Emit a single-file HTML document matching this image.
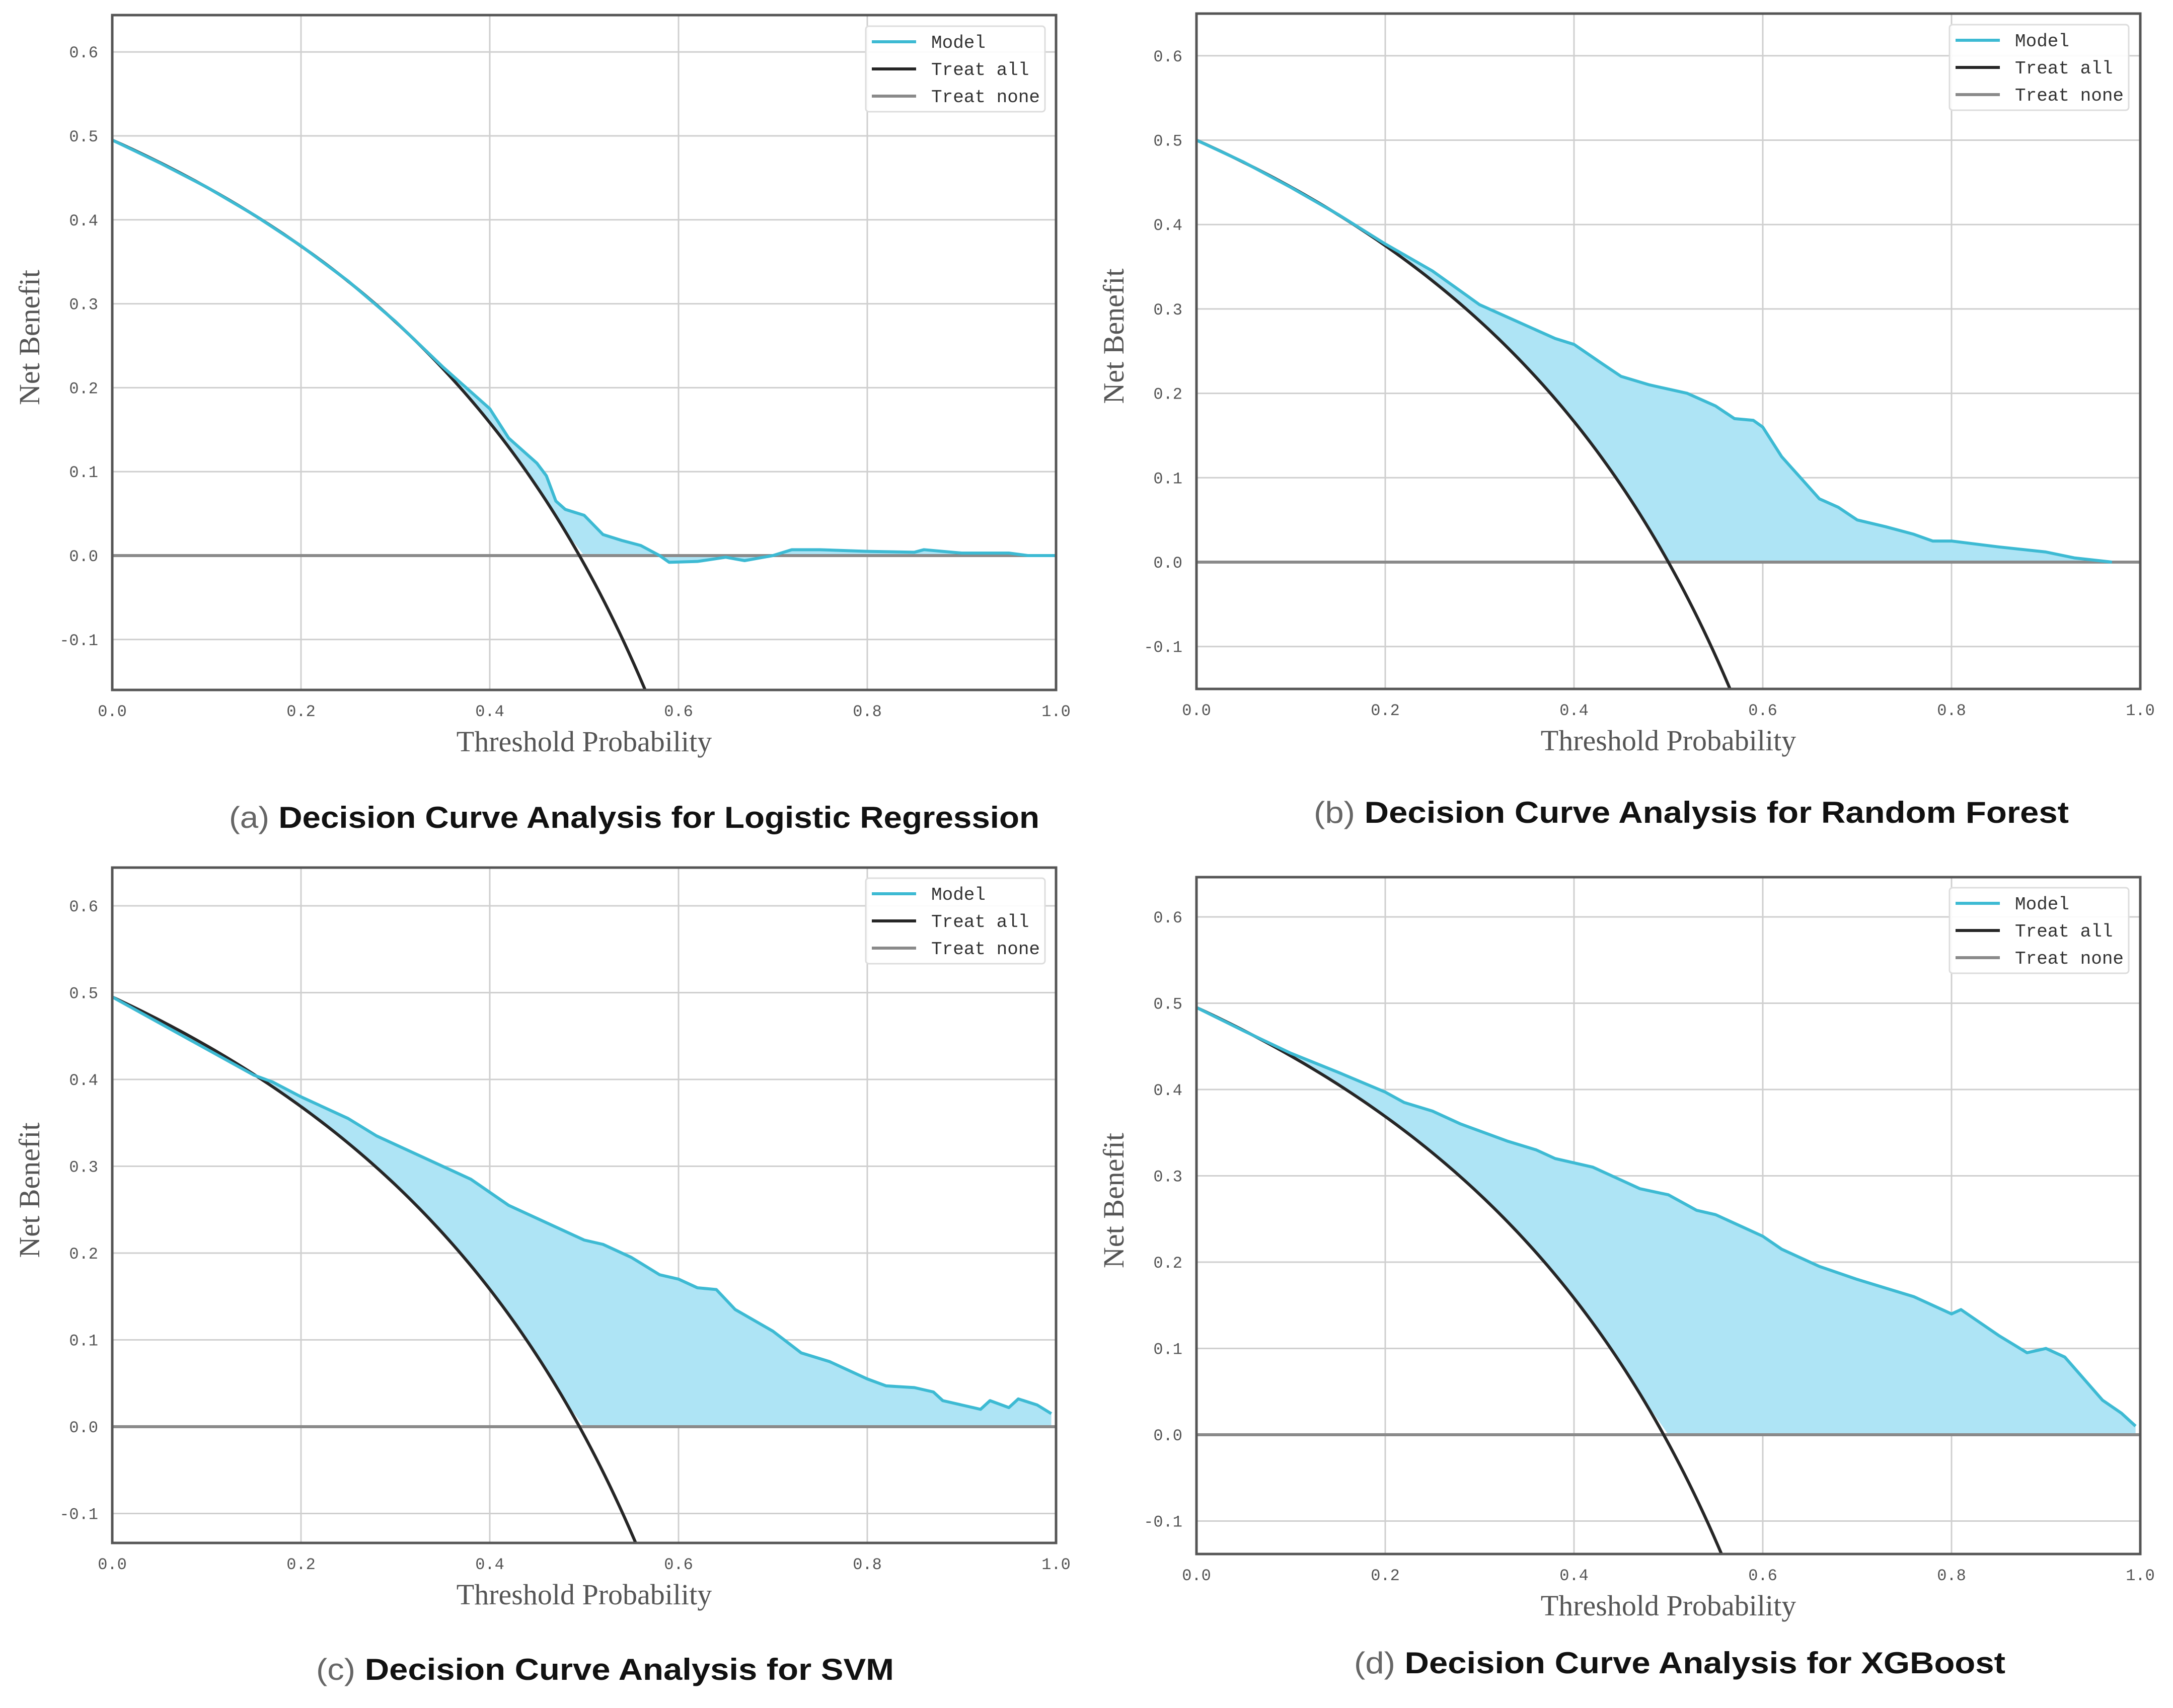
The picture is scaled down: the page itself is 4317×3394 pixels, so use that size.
<!DOCTYPE html>
<html><head><meta charset="utf-8"><style>
html,body{margin:0;padding:0;background:#fff;}
svg{display:block;}
</style></head><body>
<svg id="fig" width="4317" height="3394" viewBox="0 0 4317 3394" xmlns="http://www.w3.org/2000/svg"></svg>
<script>
// ---- data ----
const prevA = 0.495, prevB = 0.5, prevC = 0.495, prevD = 0.495;
const xTicks = [0, 0.2, 0.4, 0.6, 0.8, 1.0];
const xTickLabels = ["0.0","0.2","0.4","0.6","0.8","1.0"];
const yTicks = [-0.1, 0, 0.1, 0.2, 0.3, 0.4, 0.5, 0.6];
const yTickLabels = ["-0.1","0.0","0.1","0.2","0.3","0.4","0.5","0.6"];
const legendLabels = ["Model","Treat all","Treat none"];

const thrA = [0,0.05,0.1,0.15,0.2,0.25,0.3,0.35,0.37,0.4,0.42,0.45,0.46,0.47,0.48,0.5,0.52,0.54,0.56,0.58,0.59,0.62,0.65,0.67,0.7,0.72,0.75,0.8,0.85,0.86,0.9,0.95,0.97,1.0];
const nbA  = [0.495,0.468,0.439,0.406,0.369,0.327,0.279,0.225,0.205,0.175,0.14,0.11,0.095,0.065,0.055,0.048,0.025,0.018,0.012,0.0,-0.008,-0.007,-0.002,-0.006,0.0,0.007,0.007,0.005,0.004,0.007,0.003,0.003,0.0,0.0];

const thrB = [0,0.05,0.1,0.15,0.2,0.25,0.3,0.32,0.35,0.38,0.4,0.43,0.45,0.48,0.5,0.52,0.55,0.57,0.59,0.6,0.62,0.64,0.66,0.68,0.7,0.73,0.76,0.78,0.8,0.85,0.9,0.93,0.97];
const nbB  = [0.5,0.474,0.444,0.412,0.377,0.345,0.305,0.295,0.28,0.265,0.258,0.235,0.22,0.21,0.205,0.2,0.185,0.17,0.168,0.16,0.125,0.1,0.075,0.065,0.05,0.042,0.033,0.025,0.025,0.018,0.012,0.005,0.0];

const thrC = [0,0.05,0.1,0.15,0.17,0.2,0.25,0.28,0.3,0.33,0.35,0.38,0.4,0.42,0.45,0.48,0.5,0.52,0.55,0.58,0.6,0.62,0.64,0.66,0.7,0.73,0.76,0.8,0.82,0.85,0.87,0.88,0.9,0.92,0.93,0.95,0.96,0.98,0.995];
const nbC  = [0.495,0.465,0.435,0.405,0.397,0.38,0.355,0.335,0.325,0.31,0.3,0.285,0.27,0.255,0.24,0.225,0.215,0.21,0.195,0.175,0.17,0.16,0.158,0.135,0.11,0.085,0.075,0.055,0.047,0.045,0.04,0.03,0.025,0.02,0.03,0.022,0.032,0.025,0.015];

const thrD = [0,0.05,0.1,0.15,0.2,0.22,0.25,0.28,0.3,0.33,0.36,0.38,0.42,0.45,0.47,0.5,0.53,0.55,0.58,0.6,0.62,0.66,0.7,0.73,0.76,0.78,0.8,0.81,0.83,0.85,0.88,0.9,0.92,0.94,0.96,0.98,0.995];
const nbD  = [0.495,0.468,0.442,0.42,0.397,0.385,0.375,0.36,0.352,0.34,0.33,0.32,0.31,0.295,0.285,0.278,0.26,0.255,0.24,0.23,0.215,0.195,0.18,0.17,0.16,0.15,0.14,0.145,0.13,0.115,0.095,0.1,0.09,0.065,0.04,0.025,0.01];

const svg = document.getElementById('fig');
const NS = 'http://www.w3.org/2000/svg';
function mk(tag, attrs, parent){ const e=document.createElementNS(NS,tag); for(const k in attrs) e.setAttribute(k,attrs[k]); (parent||svg).appendChild(e); return e; }

const panels = [
 {id:'a', L:223, R:2098, T:30, B:1371, y0:1104, u:1668, prev:prevA, thr:thrA, nb:nbA, legX:1720, legY:52,
  capX:455, capW:1610, capY:1645, tag:'(a)', cap:'Decision Curve Analysis for Logistic Regression'},
 {id:'b', L:2377, R:4252, T:27, B:1369, y0:1117, u:1677, prev:prevB, thr:thrB, nb:nbB, legX:3873, legY:49,
  capX:2610, capW:1500, capY:1635, tag:'(b)', cap:'Decision Curve Analysis for Random Forest'},
 {id:'c', L:223, R:2098, T:1724, B:3066, y0:2835, u:1725, prev:prevC, thr:thrC, nb:nbC, legX:1720, legY:1745,
  capX:628, capW:1148, capY:3338, tag:'(c)', cap:'Decision Curve Analysis for SVM'},
 {id:'d', L:2377, R:4252, T:1743, B:3088, y0:2851, u:1715, prev:prevD, thr:thrD, nb:nbD, legX:3873, legY:1764,
  capX:2690, capW:1294, capY:3325, tag:'(d)', cap:'Decision Curve Analysis for XGBoost'}
];

panels.forEach(p=>{
  const g = mk('g',{});
  
  
  const X = v => p.L + v*(p.R-p.L);
  const Y = v => p.y0 - v*p.u;
  const clipId = 'clip'+p.id;
  const cp = mk('clipPath',{id:clipId}, g);
  mk('rect',{x:p.L,y:p.T,width:p.R-p.L,height:p.B-p.T}, cp);
  // grid
  xTicks.forEach(t=>{ const l=mk('line',{x1:X(t),x2:X(t),y1:p.T,y2:p.B,stroke:'#cfcfcf','stroke-width':3},g);
      });
  yTicks.forEach(t=>{ const l=mk('line',{x1:p.L,x2:p.R,y1:Y(t),y2:Y(t),stroke:'#cfcfcf','stroke-width':3},g);
      });
  // model fill area between model and max(treat all,0)
  const ta = t => p.prev - (1-p.prev)*t/(1-t);
  let top = p.thr.map((t,i)=>[X(t),Y(p.nb[i])]);
  let base = p.thr.slice().reverse().map(t=>[X(t),Y(Math.max(0,Math.min(ta(t), p.nb[p.thr.indexOf(t)])))]);
  const fill = mk('path',{d:'M'+top.concat(base).map(q=>q.join(',')).join('L')+'Z',fill:'#aee4f5',stroke:'none','clip-path':'url(#'+clipId+')'},g);
  
  
  // treat none
  const tn = mk('line',{x1:p.L,x2:p.R,y1:Y(0),y2:Y(0),stroke:'#8a8a8a','stroke-width':6},g);
  
  
  // treat all
  const pts=[]; for(let i=0;i<=120;i++){ const t=i/120*0.62; pts.push([X(t),Y(ta(t))]); }
  const tal = mk('polyline',{points:pts.map(q=>q.join(',')).join(' '),fill:'none',stroke:'#262626','stroke-width':6,'clip-path':'url(#'+clipId+')'},g);
  
  
  // model line
  const ml = mk('polyline',{points:top.map(q=>q.join(',')).join(' '),fill:'none',stroke:'#3dbad3','stroke-width':6,'stroke-linejoin':'round','clip-path':'url(#'+clipId+')'},g);
  
  
  // frame
  const fr = mk('rect',{x:p.L,y:p.T,width:p.R-p.L,height:p.B-p.T,fill:'none',stroke:'#555','stroke-width':5},g);
  
  
  // tick labels
  xTicks.forEach((t,i)=>{ const tx=mk('text',{x:X(t),y:p.B+52,'text-anchor':'middle','font-family':'Liberation Mono, monospace','font-size':32,fill:'#555'},g);
    tx.textContent=xTickLabels[i];   });
  yTicks.forEach((t,i)=>{ const tx=mk('text',{x:p.L-28,y:Y(t)+11,'text-anchor':'end','font-family':'Liberation Mono, monospace','font-size':32,fill:'#555'},g);
    tx.textContent=yTickLabels[i];   });
  // axis titles
  const xt = mk('text',{x:(p.L+p.R)/2,y:p.B+122,'text-anchor':'middle','font-family':'Liberation Serif, serif','font-size':58,fill:'#555'},g);
  xt.textContent='Threshold Probability';
   
  const ym = (p.T+p.B)/2 - 30;
  const yt = mk('text',{x:p.L-145,y:ym,'text-anchor':'middle','font-family':'Liberation Serif, serif','font-size':58,fill:'#555',transform:'rotate(-90 '+(p.L-145)+' '+ym+')'},g);
  yt.textContent='Net Benefit';
   
  // legend
  const lg = mk('g',{},g);
   
  mk('rect',{x:p.legX,y:p.legY,width:356,height:170,fill:'#fff','fill-opacity':0.9,stroke:'#ddd','stroke-width':3,rx:6},lg);
  const cols=['#3dbad3','#262626','#8a8a8a'];
  legendLabels.forEach((s,i)=>{ const yy=p.legY+31+i*54;
    const ln=mk('line',{x1:p.legX+12,x2:p.legX+100,y1:yy,y2:yy,stroke:cols[i],'stroke-width':6},lg);
     
    const tx=mk('text',{x:p.legX+130,y:yy+12,'font-family':'Liberation Mono, monospace','font-size':36,fill:'#333'},lg);
    tx.textContent=s;   });
  // caption
  const cap = mk('text',{x:p.capX,y:p.capY,'font-family':'Liberation Sans, sans-serif','font-size':60,textLength:p.capW,lengthAdjust:'spacingAndGlyphs'},g);
   
  const s1 = mk('tspan',{fill:'#666'},cap); s1.textContent=p.tag+' ';
  const s2 = mk('tspan',{fill:'#111','font-weight':'bold'},cap); s2.textContent=p.cap;
});
</script>
</body></html>
